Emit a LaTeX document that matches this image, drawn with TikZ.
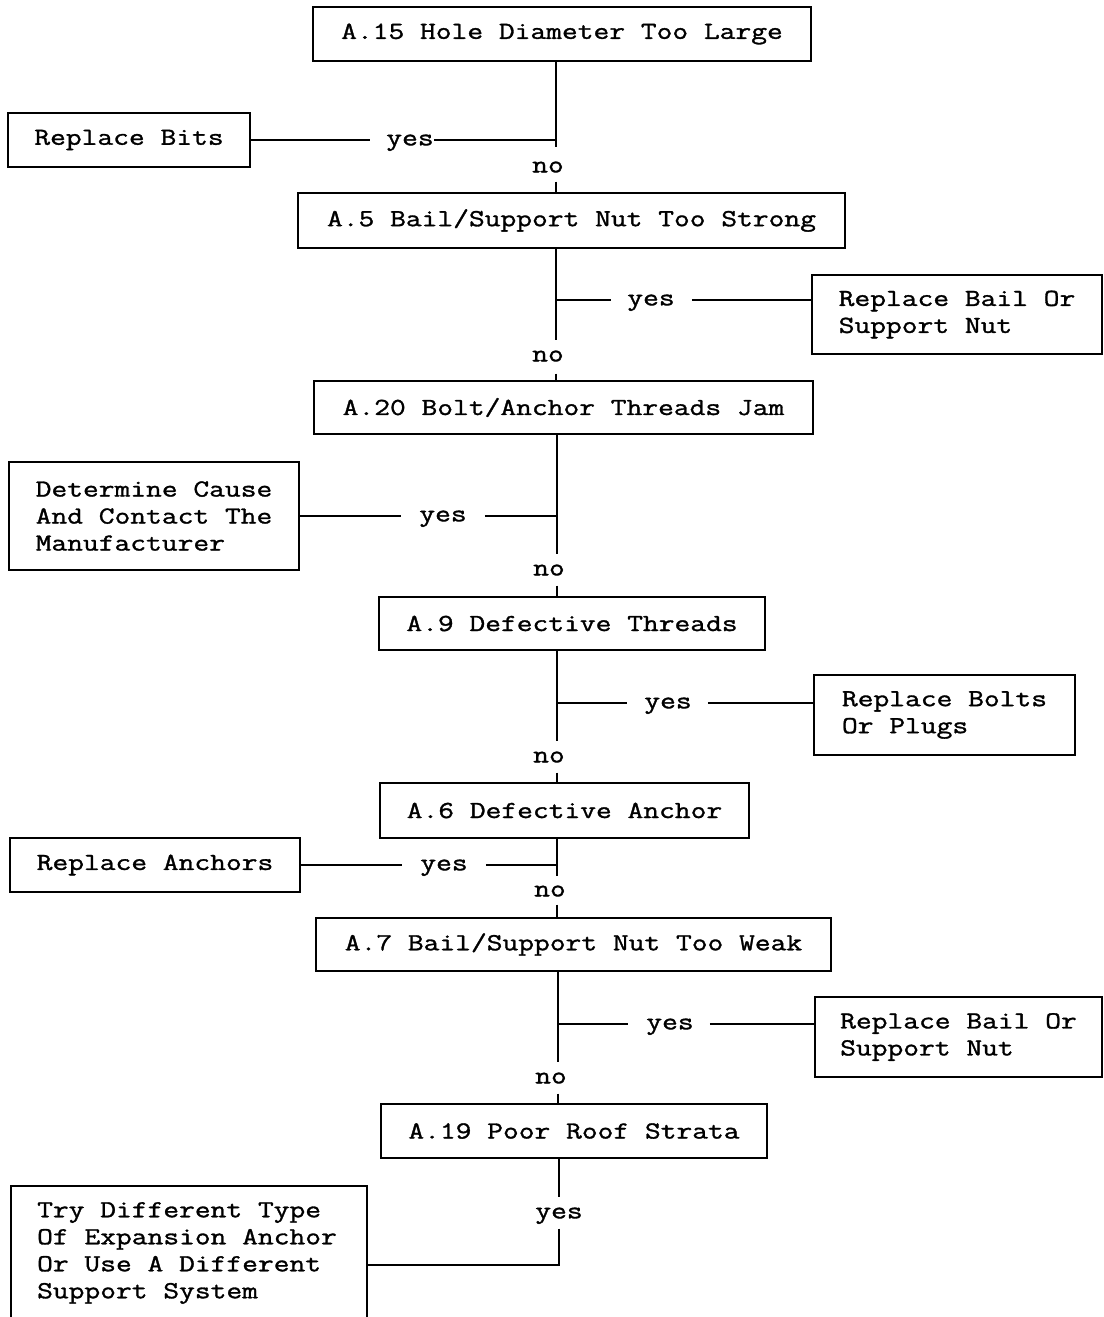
\documentclass[tikz,border=0pt]{standalone}
\usepackage{fontspec}
\newfontfamily\cour[FakeStretch=1.25,FakeBold=1.3]{Latin Modern Mono}
\newcommand{\txtfont}{\cour\fontsize{24.5}{27}\selectfont}
\tikzset{
  box/.style={draw, line width=2pt, inner sep=0pt, font=\txtfont},
  lbl/.style={inner sep=0pt, text depth=0pt, font=\txtfont},
  conn/.style={line width=2pt}
}
\begin{document}
\begin{tikzpicture}[x=1pt,y=-1pt]
\useasboundingbox (0,0) rectangle (1103,1317);
% boxes
\node[box, minimum width=498pt, minimum height=54pt] (b1) at (562,34) {A.15 Hole Diameter Too Large};
\node[box, minimum width=242pt, minimum height=54pt] (rb) at (129,140) {Replace Bits};
\node[box, minimum width=547pt, minimum height=55pt] (b2) at (571.5,220.5) {A.5 Bail/Support Nut Too Strong};
\node[box, align=left, minimum width=290pt, minimum height=79pt] (r2) at (957,314.5) {Replace Bail Or\\Support Nut};
\node[box, minimum width=499pt, minimum height=53pt] (b3) at (563.5,407.5) {A.20 Bolt/Anchor Threads Jam};
\node[box, align=left, minimum width=290pt, minimum height=108pt] (l3) at (154,516) {Determine Cause\\And Contact The\\Manufacturer};
\node[box, minimum width=386pt, minimum height=53pt] (b4) at (572,623.5) {A.9 Defective Threads};
\node[box, align=left, minimum width=261pt, minimum height=80pt] (r4) at (944.5,715) {Replace Bolts\\Or Plugs};
\node[box, minimum width=369pt, minimum height=55pt] (b5) at (564.5,810.5) {A.6 Defective Anchor};
\node[box, minimum width=290pt, minimum height=54pt] (l5) at (155,865) {Replace Anchors};
\node[box, minimum width=515pt, minimum height=53pt] (b6) at (573.5,944.5) {A.7 Bail/Support Nut Too Weak};
\node[box, align=left, minimum width=287pt, minimum height=80pt] (r6) at (958.5,1037) {Replace Bail Or\\Support Nut};
\node[box, minimum width=386pt, minimum height=54pt] (b7) at (574,1131) {A.19 Poor Roof Strata};
\node[box, draw=none, align=left, minimum width=354pt, minimum height=132pt] (l7) at (187,1253) {Try Different Type\\Of Expansion Anchor\\Or Use A Different\\Support System};
\draw[conn] ([xshift=2pt]l7.south west) -- ([xshift=2pt]l7.north west) -- ([xshift=2pt]l7.north east) -- ([xshift=2pt]l7.south east);

% stage 1
\coordinate (j1) at (556,140);
\node[lbl] (n1) at (548,167) {no};
\node[lbl] (y1) at (410,140) {yes};
\draw[conn] (j1 |- b1.south) -- ([yshift=14pt]j1 |- n1.north);
\draw[conn] ([yshift=-9pt]j1 |- n1.south) -- (j1 |- b2.north);
\draw[conn] (rb.east) -- ([xshift=-16pt]y1.west);
\draw[conn] (y1.east) -- (j1);

% stage 2
\coordinate (j2) at (556,300);
\node[lbl] (n2) at (548,356) {no};
\node[lbl] (y2) at (651,300) {yes};
\draw[conn] (j2 |- b2.south) -- ([yshift=10pt]j2 |- n2.north);
\draw[conn] ([yshift=-12pt]j2 |- n2.south) -- (j2 |- b3.north);
\draw[conn] (j2) -- ([xshift=-16pt]y2.west);
\draw[conn] ([xshift=17pt]y2.east) -- (r2.west |- j2);

% stage 3
\coordinate (j3) at (557,516);
\node[lbl] (n3) at (549,570) {no};
\node[lbl] (y3) at (443,516) {yes};
\draw[conn] (j3 |- b3.south) -- ([yshift=10pt]j3 |- n3.north);
\draw[conn] ([yshift=-10pt]j3 |- n3.south) -- (j3 |- b4.north);
\draw[conn] (l3.east |- j3) -- ([xshift=-18pt]y3.west);
\draw[conn] ([xshift=18pt]y3.east) -- (j3);

% stage 4
\coordinate (j4) at (557,703);
\node[lbl] (n4) at (549,757) {no};
\node[lbl] (y4) at (668,703) {yes};
\draw[conn] (j4 |- b4.south) -- ([yshift=10pt]j4 |- n4.north);
\draw[conn] ([yshift=-10pt]j4 |- n4.south) -- (j4 |- b5.north);
\draw[conn] (j4) -- ([xshift=-17pt]y4.west);
\draw[conn] ([xshift=16pt]y4.east) -- (r4.west |- j4);

% stage 5
\coordinate (j5) at (557,865);
\node[lbl] (n5) at (550,891) {no};
\node[lbl] (y5) at (444,865) {yes};
\draw[conn] (j5 |- b5.south) -- ([yshift=9pt]j5 |- n5.north);
\draw[conn] ([yshift=-8pt]j5 |- n5.south) -- (j5 |- b6.north);
\draw[conn] (l5.east |- j5) -- ([xshift=-18pt]y5.west);
\draw[conn] ([xshift=18pt]y5.east) -- (j5);

% stage 6
\coordinate (j6) at (558,1024);
\node[lbl] (n6) at (551,1078) {no};
\node[lbl] (y6) at (670,1024) {yes};
\draw[conn] (j6 |- b6.south) -- ([yshift=10pt]j6 |- n6.north);
\draw[conn] ([yshift=-10pt]j6 |- n6.south) -- (j6 |- b7.north);
\draw[conn] (j6) -- ([xshift=-18pt]y6.west);
\draw[conn] ([xshift=16pt]y6.east) -- (r6.west |- j6);

% stage 7
\coordinate (j7) at (559,1265);
\node[lbl] (y7) at (559,1213) {yes};
\draw[conn] (j7 |- b7.south) -- ([yshift=10pt]j7 |- y7.north);
\draw[conn] ([yshift=-10pt]j7 |- y7.south) -- (j7) -- ([xshift=2pt]l7.east |- j7);
\end{tikzpicture}
\end{document}
